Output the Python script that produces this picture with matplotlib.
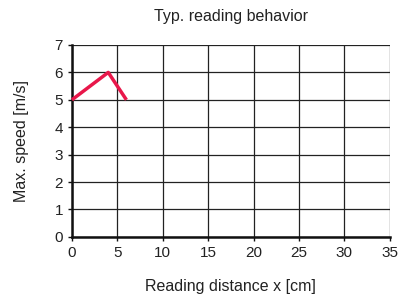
import matplotlib
matplotlib.use("Agg")
import matplotlib.pyplot as plt

plt.rcParams['font.family'] = ['Liberation Sans', 'DejaVu Sans']

distance = [0, 4, 6]
speed = [5, 6, 5]
xticks = [0, 5, 10, 15, 20, 25, 30, 35]
yticks = [0, 1, 2, 3, 4, 5, 6, 7]

fig = plt.figure(figsize=(4.04, 2.98), dpi=100)
ax = fig.add_axes([0.178, 0.205, 0.787, 0.644])
ax.set_xlim(0, 35)
ax.set_ylim(0, 7)
ax.set_xticks(xticks)
ax.set_yticks(yticks)
ax.grid(True, color='#222222', linewidth=0.9)
ax.set_axisbelow(True)
for s in ['top', 'right']:
    ax.spines[s].set_visible(False)
for s in ['left', 'bottom']:
    ax.spines[s].set_linewidth(1.8)
    ax.spines[s].set_color('#111111')
ax.tick_params(labelsize=11, length=3, width=1, color='#111111', labelcolor='#222222')
ax.plot(distance, speed, color='#e8174a', linewidth=2.5, solid_capstyle='butt', clip_on=False, zorder=3)
ax.set_xlabel('Reading distance x [cm]', fontsize=11.5, labelpad=14, color='#222222')
ax.set_ylabel('Max. speed [m/s]', fontsize=11.5, labelpad=18, color='#222222')
ax.set_title('Typ. reading behavior', fontsize=11.5, pad=17, color='#222222')
fig.savefig('out.png', dpi=100)
